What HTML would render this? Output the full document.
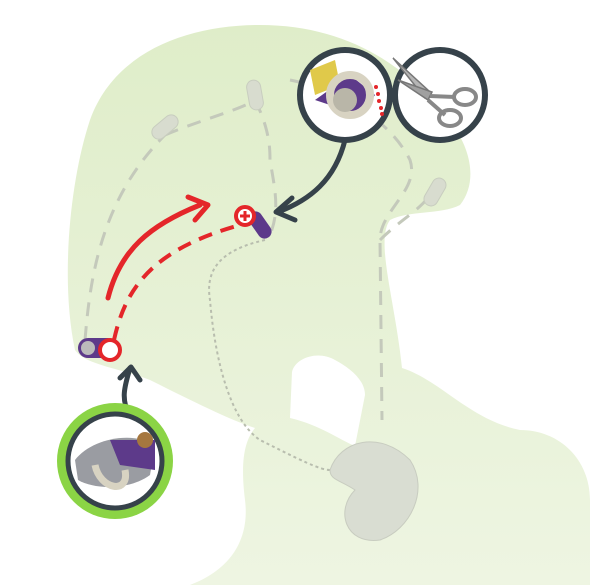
<!DOCTYPE html>
<html><head><style>
html,body{margin:0;padding:0;background:#fff;width:600px;height:585px;overflow:hidden}
</style></head><body>
<svg width="600" height="585" viewBox="0 0 600 585" xmlns="http://www.w3.org/2000/svg">
<defs><linearGradient id="g" x1="0" y1="0" x2="0" y2="1"><stop offset="0" stop-color="#dfedc9"/><stop offset="1" stop-color="#eef5e2"/></linearGradient></defs>
<path fill="url(#g)" d="M75,350 C60,280 70,180 90,120 C115,50 190,25 260,25 C340,25 400,60 440,110 C470,140 480,180 460,205 C440,215 410,210 390,220 C375,240 395,300 402,368 C440,380 470,420 520,430 C560,430 590,460 590,500 L590,585 L190,585 C230,570 250,540 245,500 C240,460 245,440 255,428 C230,420 190,400 150,380 C120,368 85,365 75,350 Z"/>
<path fill="#fff" d="M292,372 C295,358 318,350 335,360 C350,368 365,380 365,395 L355,446 C340,440 320,425 290,418 Z"/>
<g fill="none" stroke="#c4c9bb" stroke-width="3" stroke-dasharray="14,10">
<path d="M85,340 C90,280 100,200 165,135"/>
<path d="M165,135 C200,120 240,110 255,100"/>
<path d="M255,100 C270,130 270,150 270,160 C275,190 280,210 270,235"/>
<path d="M290,80 C340,90 390,120 410,160 C420,190 380,210 380,240 L382,420"/>
<path d="M380,240 C400,220 420,210 430,195"/>
</g>
<path d="M265,240 C220,250 205,270 210,300 C215,360 230,420 260,440 C300,460 320,470 330,470" fill="none" stroke="#b8bdae" stroke-width="2" stroke-dasharray="3,3"/>
<g fill="#d8dccf" stroke="#c8cdbf"><rect x="150" y="120" width="30" height="14" rx="7" transform="rotate(-40 165 127)"/><rect x="240" y="88" width="30" height="14" rx="7" transform="rotate(80 255 95)"/><rect x="420" y="185" width="30" height="14" rx="7" transform="rotate(-60 435 192)"/></g>
<path d="M330,470 C340,440 380,430 410,460 C430,490 410,530 380,540 C345,545 335,510 355,490 C340,480 330,480 330,470Z" fill="#d9ddd2" stroke="#c8ccc0"/>
<rect x="78" y="338" width="40" height="20" rx="10" fill="#5d3a8a"/><circle cx="88" cy="348" r="7" fill="#bbb"/>
<rect x="245" y="218" width="30" height="14" rx="7" fill="#5d3a8a" transform="rotate(55 260 225)"/>
<path d="M108,298 C120,250 150,225 200,205" fill="none" stroke="#e4262a" stroke-width="5" stroke-linecap="round"/>
<path d="M188,197 L208,205 L195,220" fill="none" stroke="#e4262a" stroke-width="5" stroke-linecap="round" stroke-linejoin="round"/>
<path d="M114,340 C125,290 150,250 240,225" fill="none" stroke="#e4262a" stroke-width="4" stroke-dasharray="14,9"/>
<circle cx="110" cy="350" r="10" fill="#fff" stroke="#e4262a" stroke-width="4"/>
<circle cx="245" cy="216" r="9" fill="#fff" stroke="#e4262a" stroke-width="4"/><path d="M240,216h10M245,211v10" stroke="#e4262a" stroke-width="3"/>
<path d="M345,140 C335,180 310,200 278,212" fill="none" stroke="#36424a" stroke-width="5" stroke-linecap="round"/>
<path d="M292,198 L276,212 L295,220" fill="none" stroke="#36424a" stroke-width="5" stroke-linecap="round" stroke-linejoin="round"/>
<path d="M130,415 C120,400 125,385 130,368" fill="none" stroke="#36424a" stroke-width="5" stroke-linecap="round"/>
<path d="M120,378 L131,367 L140,380" fill="none" stroke="#36424a" stroke-width="5" stroke-linecap="round" stroke-linejoin="round"/>
<circle cx="115" cy="461" r="58" fill="#8bd445"/>
<circle cx="115" cy="461" r="47" fill="#fff" stroke="#36424a" stroke-width="5"/>
<path d="M75,460 C90,440 130,430 155,445 L150,475 C130,490 95,490 78,480Z" fill="#9a9ca2"/>
<path d="M110,440 L155,440 L155,470 L120,465Z" fill="#5d3a8a"/><circle cx="145" cy="440" r="8" fill="#a5773f"/>
<path d="M95,465 C100,490 130,495 125,470" fill="none" stroke="#d8d3c2" stroke-width="7"/>
<circle cx="440" cy="95" r="45" fill="#fff" stroke="#36424a" stroke-width="6"/>
<circle cx="345" cy="95" r="45" fill="#fff" stroke="#36424a" stroke-width="6"/>
<path d="M310,70 L335,60 L340,85 L315,95Z" fill="#e0c94a"/><path d="M315,100 L350,75 L375,95 L360,115Z" fill="#5d3a8a"/>
<circle cx="350" cy="95" r="20" fill="none" stroke="#d8d3c2" stroke-width="8"/><circle cx="345" cy="100" r="12" fill="#b9b6a8"/>
<g fill="#e4262a"><circle cx="376" cy="87" r="2"/><circle cx="378" cy="94" r="2"/><circle cx="379" cy="101" r="2"/><circle cx="381" cy="108" r="2"/><circle cx="382" cy="114" r="2"/></g>
<path d="M393,58 L430,92 L425,98Z" fill="#b5b5b5" stroke="#777" stroke-width="1.5"/>
<path d="M398,80 L432,92 L428,100Z" fill="#a0a0a0" stroke="#777" stroke-width="1.5"/>
<path d="M430,96 L455,97 M428,100 L445,115" stroke="#888" stroke-width="4"/>
<ellipse cx="465" cy="97" rx="11" ry="8" fill="none" stroke="#888" stroke-width="4"/><ellipse cx="450" cy="118" rx="11" ry="8" fill="none" stroke="#888" stroke-width="4"/>
</svg>
</body></html>
